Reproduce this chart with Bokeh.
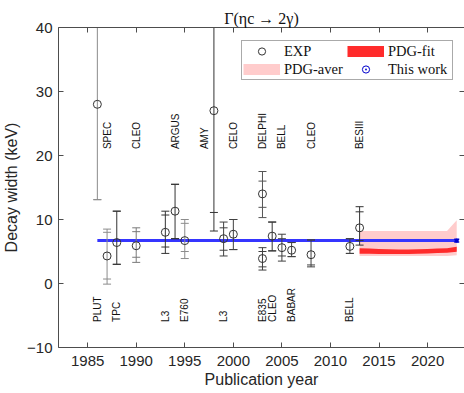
from bokeh.plotting import figure
from bokeh.models import FixedTicker, LinearAxis, Legend, LegendItem, Range1d
from bokeh.core.properties import value
from bokeh.embed import file_html
from bokeh.resources import INLINE

NaN = float("nan")

# ---- experimental measurements (publication year, width in keV) ----
exp_year  = [1986, 1987, 1988, 1990, 1993, 1994, 1995, 1998, 1999, 2000, 2003, 2003, 2004, 2005, 2006, 2008, 2012, 2013]
exp_value = [28.0, 4.3, 6.4, 5.9, 8.0, 11.3, 6.7, 27.0, 7.0, 7.7, 14.0, 3.9, 7.4, 5.6, 5.2, 4.5, 5.8, 8.7]
inner_lo  = [13.1, 0.7, 3.0, 4.1, 5.7, 7.0, 5.0, 11.1, 5.2, 5.3, 11.9, 2.6, 5.1, 4.3, 4.2, 2.9, 4.7, 6.7]
inner_hi  = [42.9, 8.0, 11.3, 8.1, 10.7, 15.5, 9.4, 42.9, 8.7, 10.0, 16.0, 5.0, 9.6, 7.0, 6.4, 6.8, 7.0, 11.2]
outer_lo  = [13.1, -0.1, 3.0, 3.3, 4.7, 7.0, 3.9, 8.2, 4.3, 5.3, 10.3, 2.1, 5.1, 3.5, 4.2, 2.6, 4.7, 6.0]
outer_hi  = [42.9, 8.5, 11.3, 8.7, 11.3, 15.5, 10.0, 45.8, 9.6, 10.0, 17.5, 5.6, 9.6, 7.7, 6.4, 6.8, 7.0, 12.0]
bar_color = ["#8c8c8c", "#8c8c8c", "#333333", "#7a7a7a", "#333333", "#333333", "#8c8c8c", "#333333", "#404040",
             "#404040", "#555555", "#404040", "#333333", "#404040", "#404040", "#404040", "#404040", "#333333"]

# ---- experiment names ----
top_names    = ["SPEC", "CLEO", "ARGUS", "AMY", "CELO", "DELPHI", "BELL", "CLEO", "BESIII"]
top_years    = [1987, 1990, 1994, 1997, 2000, 2003, 2005, 2008, 2013]
bottom_names = ["PLUT", "TPC", "L3", "E760", "L3", "E835", "CLEO", "BABAR", "BELL"]
bottom_years = [1986, 1988, 1993, 1995, 1999, 2003, 2004, 2006, 2012]
top_label_level = [21.0] * len(top_names)
bottom_label_level = [-6.0] * len(bottom_names)

# ---- PDG bands ----
pdg_year = [2013, 2014, 2015, 2016, 2017, 2018, 2019, 2020, 2021, 2022, 2023]
aver_lo  = [4.3, 4.3, 4.3, 4.3, 4.3, 4.3, 4.3, 4.3, 4.3, 4.3, 4.4]
aver_hi  = [8.2, 8.2, 8.2, 8.2, 8.2, 8.2, 8.2, 8.2, 8.2, 8.2, 9.9]
fit_lo   = [4.65, 4.65, 4.6, 4.6, 4.6, 4.6, 4.65, 4.7, 4.75, 4.8, 4.95]
fit_hi   = [5.5, 5.45, 5.4, 5.35, 5.3, 5.3, 5.35, 5.4, 5.45, 5.5, 5.75]

# ---- this work ----
work_span  = [1986, 2023]
work_value = 6.7
work_err   = 0.2
work_year  = 2023

x_ticks = [1985, 1990, 1995, 2000, 2005, 2010, 2015, 2020]
y_ticks = [-10, 0, 10, 20, 30, 40]

AX = "#4d4d4d"
TXT = "#262626"

p = figure(width=464, height=393, x_range=Range1d(1982, 2023.8), y_range=Range1d(-10, 40),
           output_backend="svg", toolbar_location=None, title="Γ(ηc → 2γ)",
           min_border_left=56, min_border_right=0, min_border_top=27, min_border_bottom=46)
p.title.align = "center"
p.title.text_font = "Liberation Serif"
p.title.text_font_size = "16px"
p.title.text_font_style = "normal"
p.title.text_color = "#111111"
p.title.standoff = 2
p.outline_line_color = None
p.xgrid.visible = False
p.ygrid.visible = False
p.background_fill_color = "white"
p.border_fill_color = "white"

for ax in (p.xaxis[0], p.yaxis[0]):
    ax.axis_line_color = AX
    ax.major_tick_line_color = AX
    ax.major_tick_in = 5
    ax.major_tick_out = 0
    ax.minor_tick_line_color = None
    ax.major_label_text_font = "Liberation Sans"
    ax.major_label_text_font_size = "15px"
    ax.major_label_text_color = TXT
    ax.axis_label_text_font = "Liberation Sans"
    ax.axis_label_text_font_size = "16px"
    ax.axis_label_text_font_style = "normal"
    ax.axis_label_text_color = TXT

p.xaxis.ticker = FixedTicker(ticks=x_ticks)
p.yaxis.ticker = FixedTicker(ticks=y_ticks)
p.xaxis.axis_label = "Publication year"
p.yaxis.axis_label = "Decay width (keV)"
p.xaxis.major_label_standoff = 8
p.xaxis.axis_label_standoff = 2
p.yaxis.major_label_standoff = 6
p.yaxis.axis_label_standoff = 4

for loc, ticks in (("above", x_ticks), ("right", y_ticks)):
    p.add_layout(LinearAxis(ticker=FixedTicker(ticks=ticks), axis_line_color=AX, major_tick_line_color=AX,
                            major_tick_in=5, major_tick_out=0, minor_tick_line_color=None,
                            major_label_text_font_size="0px", major_label_text_color=None,
                            major_label_standoff=0), loc)

# bands
p.varea(x=pdg_year, y1=aver_lo, y2=aver_hi, fill_color="#ffcccc", fill_alpha=1.0)
p.varea(x=pdg_year, y1=fit_lo, y2=fit_hi, fill_color="#ff2b2b", fill_alpha=1.0)

# this work line
p.line(x=work_span, y=[work_value, work_value], line_color="#3535ff", line_width=3)

# experiment error bars
p.segment(x0=exp_year, y0=outer_lo, x1=exp_year, y1=outer_hi, line_color=bar_color, line_width=1)
for ends in (outer_lo, outer_hi, inner_lo, inner_hi):
    p.scatter(x=exp_year, y=ends, marker="dash", size=8, line_color=bar_color, line_width=1)
p.scatter(x=exp_year, y=exp_value, marker="circle", size=8, fill_color=None, line_color="#333333", line_width=1)

# this work point
p.segment(x0=[work_year], y0=[work_value - work_err], x1=[work_year], y1=[work_value + work_err],
          line_color="#0000cc", line_width=1.5)
p.scatter(x=[work_year, work_year], y=[work_value - work_err, work_value + work_err], marker="dash",
          size=5, line_color="#0000cc", line_width=1.5)
p.scatter(x=[work_year], y=[work_value], marker="circle", size=3, fill_color="#0000cc", line_color="#0000cc")

# experiment names
for xs, ys, names in ((top_years, top_label_level, top_names), (bottom_years, bottom_label_level, bottom_names)):
    p.text(x=xs, y=ys, text=names, angle=1.5708, text_align="left", text_baseline="middle",
           text_font=value("Liberation Sans"), text_font_size="10px", text_color="#111111")

# legend proxies (not drawn in the frame)
leg_circle = p.scatter(x=[NaN], y=[NaN], marker="circle", fill_color=None, line_color="#333333")
leg_fit = p.line(x=[NaN], y=[NaN], line_color="#ff2b2b", line_width=11, line_cap="butt")
leg_aver = p.line(x=[NaN], y=[NaN], line_color="#ffcccc", line_width=11, line_cap="butt")
leg_wdot = p.scatter(x=[NaN], y=[NaN], marker="circle_dot", fill_color=None, line_color="#0000cc",
                     line_width=1)

legend = Legend(items=[
    LegendItem(label="EXP", renderers=[leg_circle]),
    LegendItem(label="PDG-fit", renderers=[leg_fit]),
    LegendItem(label="PDG-aver", renderers=[leg_aver]),
    LegendItem(label="This work", renderers=[leg_wdot]),
], orientation="horizontal", ncols=2, location=(183, 267), margin=0, padding=1, spacing=0,
    glyph_width=37, glyph_height=18, label_height=14, label_width=63, label_standoff=4,
    label_text_font="Liberation Serif", label_text_font_size="14.5px", label_text_color="#111111",
    border_line_color="#555555", border_line_width=1, background_fill_color="white", background_fill_alpha=1.0)
p.add_layout(legend, "center")

open("out.html", "w").write(file_html(p, INLINE))
